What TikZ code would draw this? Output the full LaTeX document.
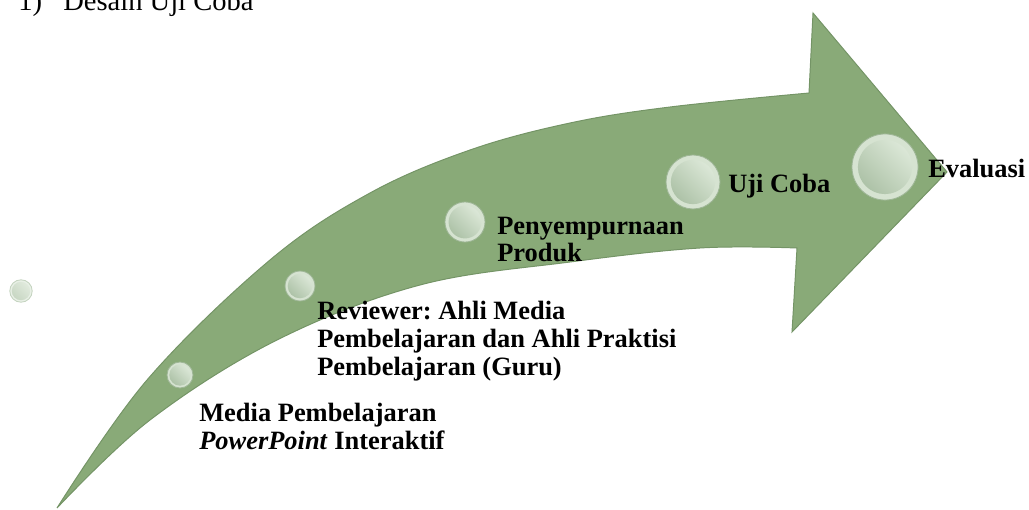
\documentclass[tikz,border=0pt]{standalone}
\usepackage{fontspec}
\setmainfont{Liberation Serif}
\frenchspacing
\usepackage{tikz}

\definecolor{arrowgreen}{RGB}{137,170,120}
\definecolor{arrowedge}{RGB}{116,148,102}
\definecolor{beadring}{RGB}{214,227,209}
\definecolor{beadrim}{RGB}{158,182,150}
\definecolor{beaddark}{RGB}{168,190,162}
\definecolor{beadlight}{RGB}{224,235,220}

\tikzstyle{bead} = [circle, inner sep=0pt, fill=beadring, draw=beadrim, line width=0.6pt]
\tikzstyle{stage} = [anchor=base west, inner sep=0pt, align=left, font=\bfseries\fontsize{18.8}{19.6}\selectfont]
\tikzset{bead size/.style={minimum size=#1, path picture={\shade[bottom color=beaddark, top color=beadlight, shading angle=-45] (path picture bounding box.center) circle[radius=0.41*#1];}}}

\begin{document}
\begin{tikzpicture}[x=0.025cm, y=-0.025cm]
\useasboundingbox (0,0) rectangle (1029,510);

%% ARROW

\fill[arrowgreen, draw=arrowedge, line width=0.7pt]
  plot[smooth, tension=0.6] coordinates {(57,508) (147,380) (270,260) (370,193) (470,150) (570,123) (670,107) (809,93)}
  -- (813,13) -- (947,172) -- (792,332) -- (797,248)
  -- plot[smooth, tension=0.6] coordinates {(797,248) (700,248) (570,262) (420,285) (277,340) (150,420) (57,508)}
  -- cycle;

%% NODES

\node (title) [anchor=base west, inner sep=0pt, font=\fontsize{20.3}{24}\selectfont] at (18,11) {\makebox[32pt][l]{1)}Desain Uji Coba};

\node (b0) [bead, bead size=16pt, opacity=0.55] at (21,291) {};
\node (b1) [bead, bead size=18.5pt] at (180,375) {};
\node (b2) [bead, bead size=21.3pt] at (300,286) {};
\node (b3) [bead, bead size=28.5pt] at (465,222) {};
\node (b4) [bead, bead size=38.4pt] at (693,182) {};
\node (b5) [bead, bead size=47pt] at (885,167) {};

\node (s1) [stage] at (199,449.5) {Media Pembelajaran\\\textit{PowerPoint} Interaktif};
\node (s2) [stage] at (317,375) {Reviewer: Ahli Media\\Pembelajaran dan Ahli Praktisi\\Pembelajaran (Guru)};
\node (s3) [stage] at (497,262) {Penyempurnaan\\Produk};
\node (s4) [stage] at (728,192.5) {Uji Coba};
\node (s5) [stage] at (928,177.5) {Evaluasi};

\end{tikzpicture}
\end{document}
